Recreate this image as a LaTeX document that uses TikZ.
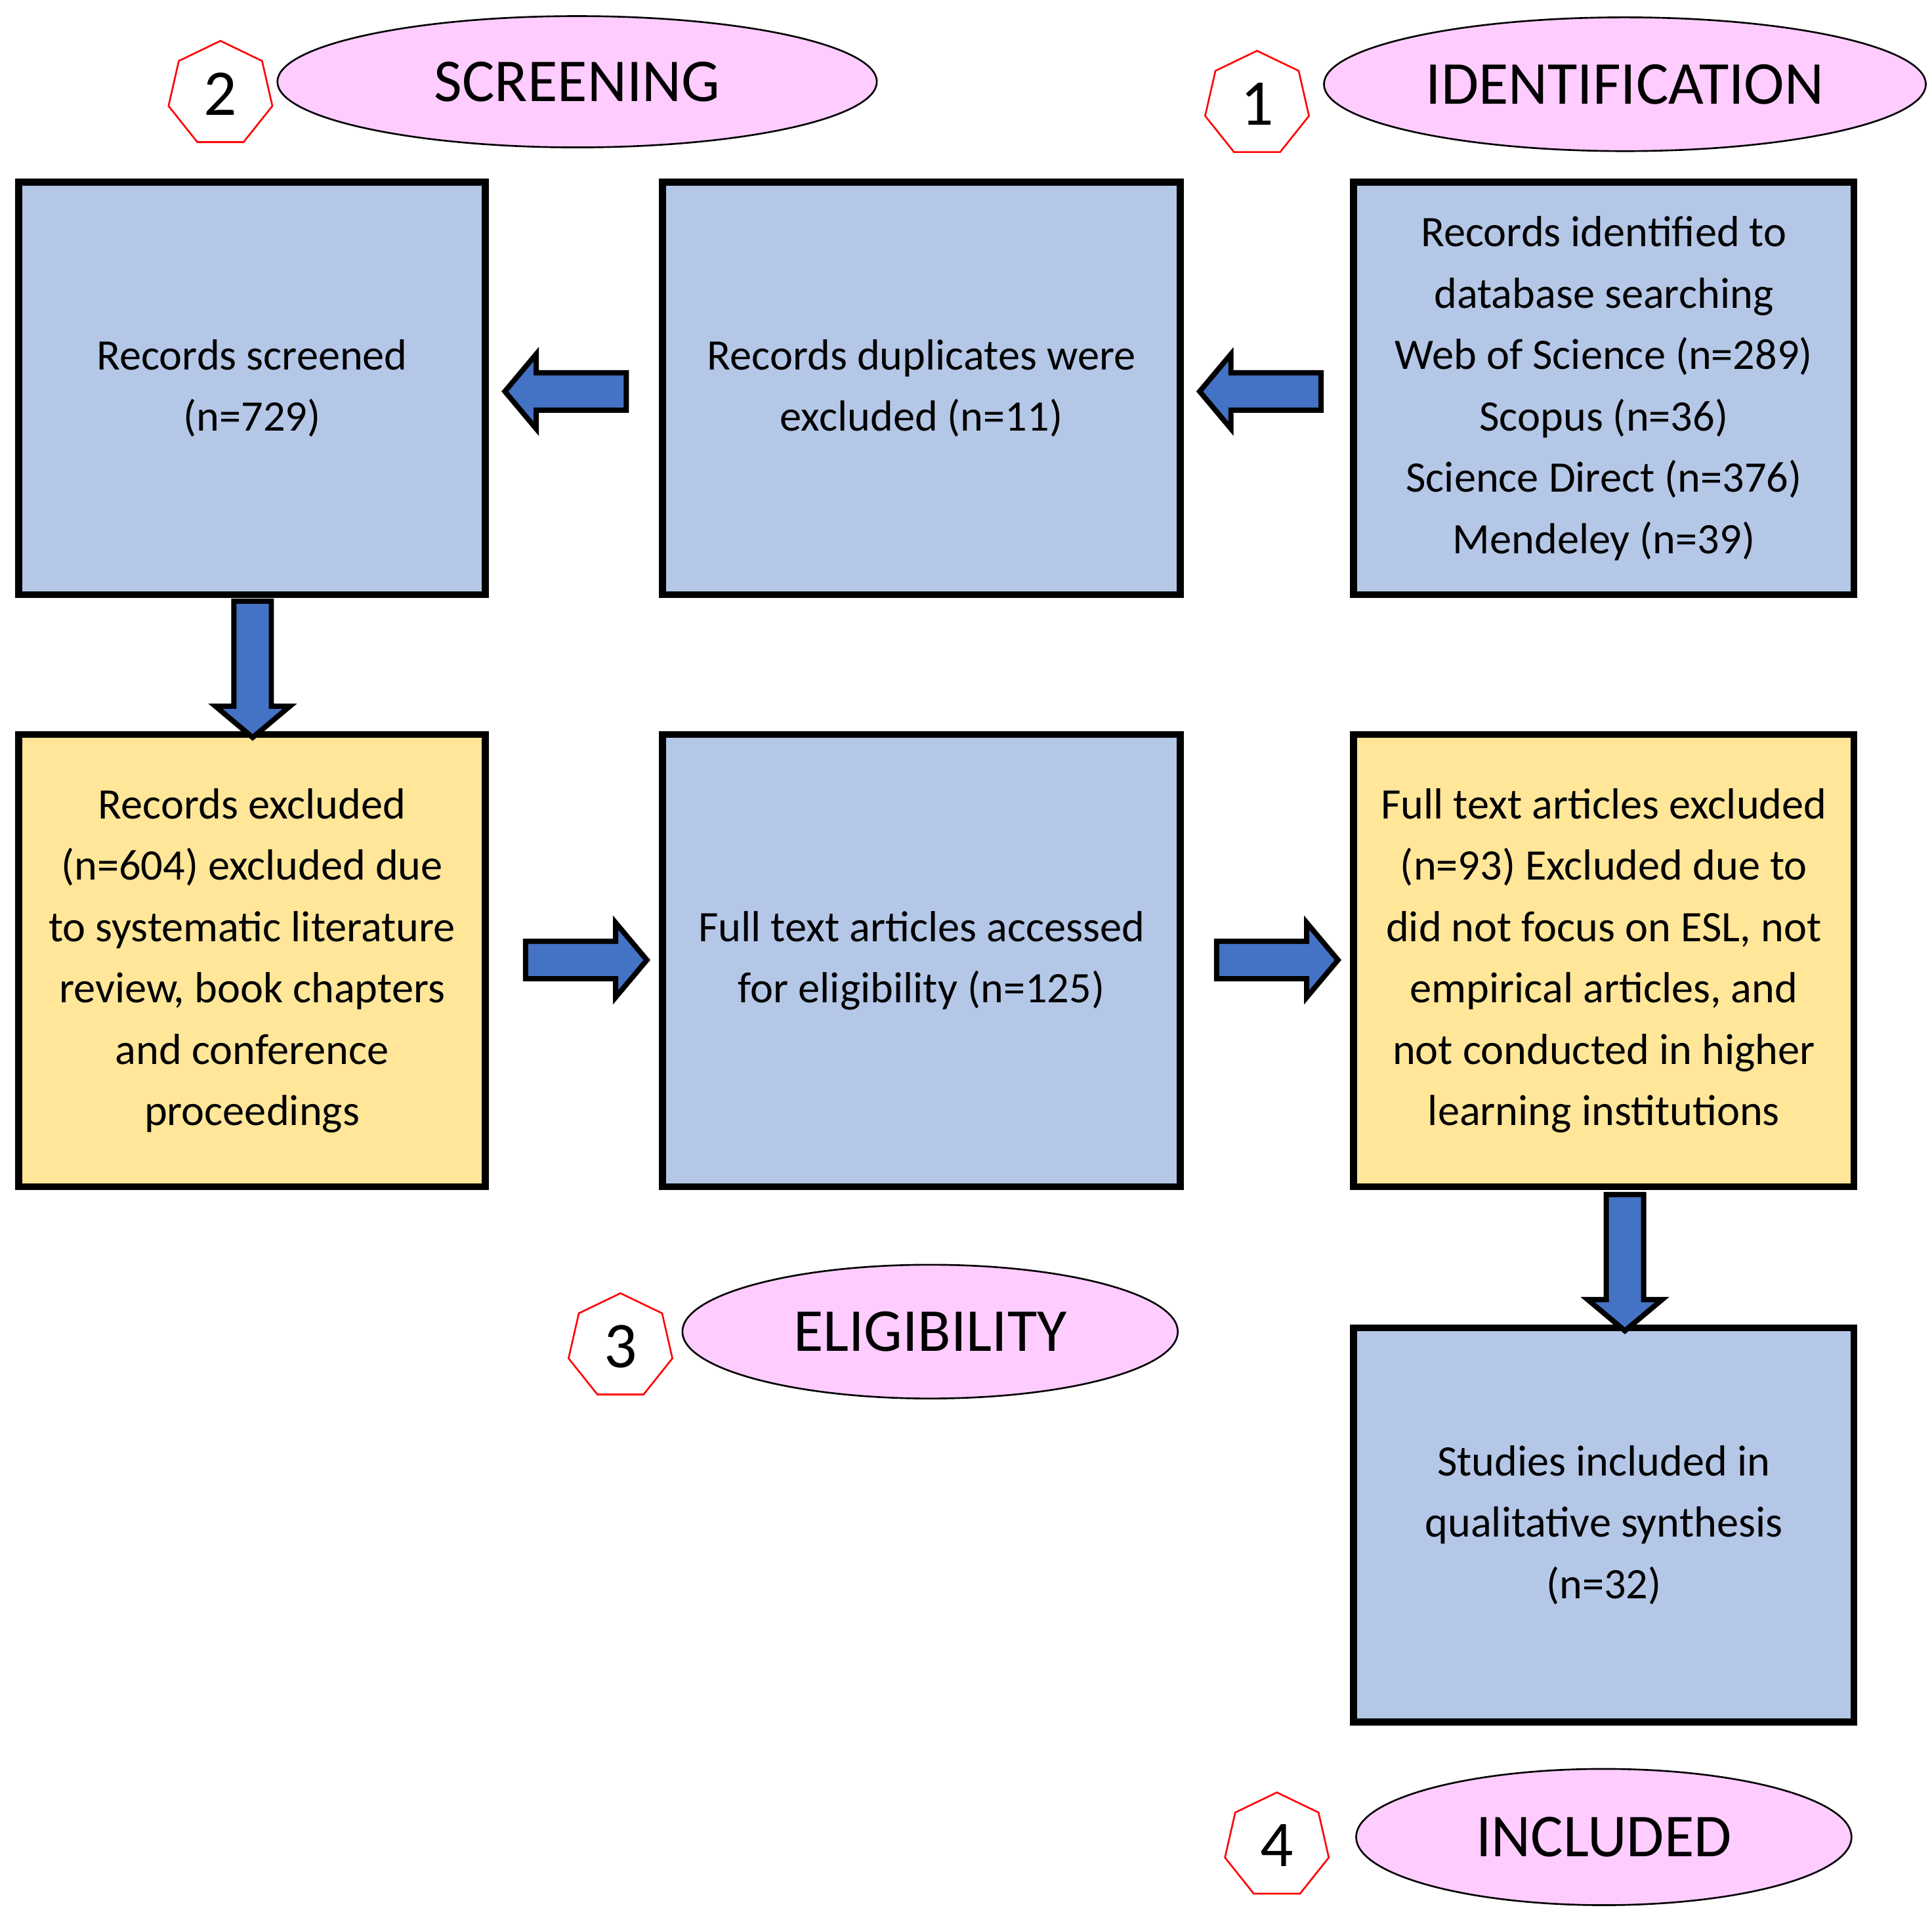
\documentclass[tikz,border=0pt]{standalone}
\usepackage{fontspec}
\setmainfont{Carlito}
\usetikzlibrary{shapes.geometric,shapes.arrows,positioning}
\definecolor{boxblue}{HTML}{B4C7E7}
\definecolor{boxyellow}{HTML}{FFE699}
\definecolor{phasepink}{HTML}{FFCCFF}
\definecolor{arrowblue}{HTML}{4472C4}
\begin{document}
\begin{tikzpicture}[
  box/.style = {
    draw, line width = 1.6pt,
    fill = boxblue,
    align = center,
    inner sep = 0pt,
    font = \fontsize{10}{14.1}\selectfont
  },
  excl/.style = {
    box, fill = boxyellow
  },
  phase/.style = {
    draw, ellipse, fill = phasepink,
    inner sep = 0pt,
    font = \fontsize{14}{16}\selectfont
  },
  stepnum/.style = {
    draw = red, regular polygon, regular polygon sides = 7,
    minimum size = 0.86cm, inner sep = 0pt,
    font = \fontsize{15}{18}\selectfont
  },
  blk/.style = {
    single arrow, draw, fill = arrowblue, line width = 1.2pt,
    inner sep = 0.13cm, single arrow head extend = 0.15cm,
    single arrow tip angle = 100,
    minimum height = 0.98cm
  }
]
  \useasboundingbox (0, 0) rectangle (15.6, -15.45);

  % boxes
  \node[box, minimum width = 3.77cm, minimum height = 3.33cm] (screened) at (2.035, -3.135) {Records screened\\(n=729)};
  \node[box, minimum width = 4.18cm, minimum height = 3.33cm] (dupl) at (7.44, -3.135) {Records duplicates were\\excluded (n=11)};
  \node[box, minimum width = 4.04cm, minimum height = 3.33cm] (ident) at (12.95, -3.135) {Records identified to\\database searching\\Web of Science (n=289)\\Scopus (n=36)\\Science Direct (n=376)\\Mendeley (n=39)};
  \node[excl, minimum width = 3.77cm, minimum height = 3.65cm] (recexcl) at (2.035, -7.755) {Records excluded\\(n=604) excluded due\\to systematic literature\\review, book chapters\\and conference\\proceedings};
  \node[box, minimum width = 4.18cm, minimum height = 3.65cm] (fulltext) at (7.44, -7.755) {Full text articles accessed\\for eligibility (n=125)};
  \node[excl, minimum width = 4.04cm, minimum height = 3.65cm] (fullexcl) at (12.95, -7.755) {Full text articles excluded\\(n=93) Excluded due to\\did not focus on ESL, not\\empirical articles, and\\not conducted in higher\\learning institutions};
  \node[box, minimum width = 4.04cm, minimum height = 3.18cm] (included) at (12.95, -12.31) {Studies included in\\qualitative synthesis\\(n=32)};

  % phases
  \node[phase, minimum width = 4.84cm, minimum height = 1.06cm] (scr) at (4.66, -0.66) {SCREENING};
  \node[phase, minimum width = 4.86cm, minimum height = 1.08cm] (idf) at (13.12, -0.68) {IDENTIFICATION};
  \node[phase, minimum width = 4.0cm, minimum height = 1.08cm] (elg) at (7.51, -10.75) {ELIGIBILITY};
  \node[phase, minimum width = 4.0cm, minimum height = 1.1cm] (inc) at (12.95, -14.83) {INCLUDED};
  \node[stepnum] (s2) at (1.78, -0.76) {2};
  \node[stepnum] (s1) at (10.15, -0.84) {1};
  \node[stepnum] (s3) at (5.01, -10.87) {3};
  \node[stepnum] (s4) at (10.31, -14.9) {4};

  % block arrows
  \node[blk, shape border rotate = 180] (a1) at (4.63, -3.16) {};
  \node[blk, shape border rotate = 180] (a2) at (10.24, -3.16) {};
  \node[blk, shape border rotate = 270, minimum height = 1.1cm] (a3) at (2.04, -5.34) {};
  \node[blk] (a4) at (4.67, -7.75) {};
  \node[blk] (a5) at (10.25, -7.75) {};
  \node[blk, shape border rotate = 270, minimum height = 1.1cm] (a6) at (13.12, -10.13) {};
\end{tikzpicture}
\end{document}
